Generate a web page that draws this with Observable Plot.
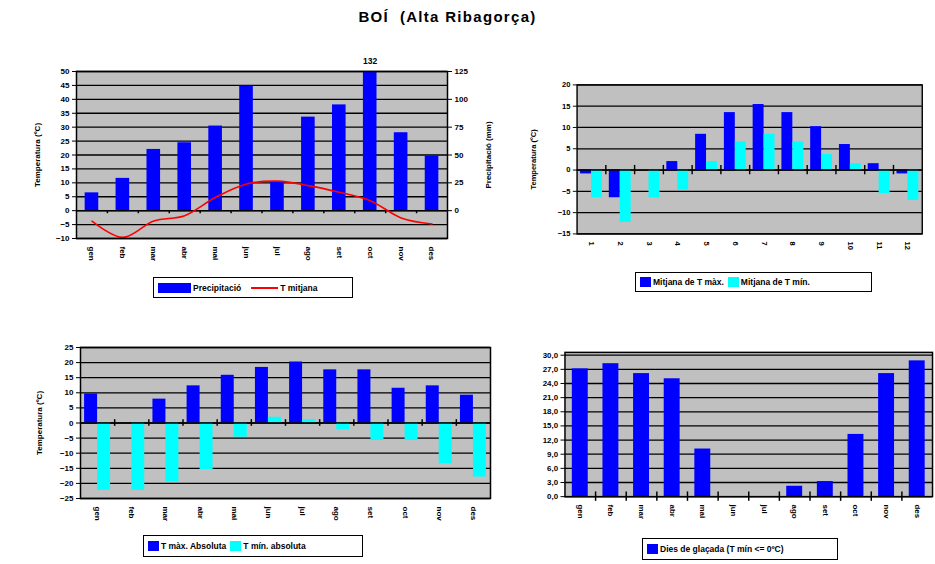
<!DOCTYPE html>
<html>
<head>
<meta charset="utf-8">
<script src="https://cdn.jsdelivr.net/npm/d3@7"></script>
<script src="https://cdn.jsdelivr.net/npm/@observablehq/plot@0.6"></script>
<style>
  html, body { margin: 0; padding: 0; background: #fff; }
  #root { position: relative; width: 935px; height: 564px; overflow: hidden; background: #fff;
          font-family: "Liberation Sans", Arial, sans-serif; }
  .panel { position: absolute; }
  .title { position: absolute; left: 0; width: 895px; top: 8px; text-align: center;
           font-weight: bold; font-size: 15px; letter-spacing: 1.3px; }
  .legend { position: absolute; border: 1.5px solid #000; background: #fff; box-sizing: border-box;
            display: flex; align-items: center; font-size: 8.5px; font-weight: bold; padding: 0 4px; white-space: nowrap; }
  .sw { display: inline-block; margin-right: 2px; }
</style>
</head>
<body>
<div id="root"></div>
<script>
// ---------- data ----------
const months = ["gen","feb","mar","abr","mai","jun","jul","ago","set","oct","nov","des"];
const monthNums = ["1","2","3","4","5","6","7","8","9","10","11","12"];
const precip = [16, 29, 55, 61, 76, 112, 26, 84, 95, 132, 70, 49];
const tMitjana = [-3.8, -9.6, -3.7, -1.8, 4.8, 9.6, 10.6, 9.0, 6.6, 3.6, -2.6, -4.8];
const tMaxMean = [-0.9, -6.5, 0, 2.0, 8.4, 13.5, 15.4, 13.5, 10.2, 6.0, 1.5, -0.9];
const tMinMean = [-6.5, -12.3, -6.5, -4.7, 2.0, 6.6, 8.4, 6.6, 3.7, 1.5, -5.5, -7.1];
const tMaxAbs = [9.6, 0, 7.9, 12.3, 15.8, 18.4, 20.2, 17.6, 17.6, 11.5, 12.3, 9.2];
const tMinAbs = [-22.3, -22.3, -19.5, -15.4, -4.7, 1.9, 1.1, -2.3, -5.8, -5.8, -13.5, -17.9];
const frostDays = [27.1, 28.2, 26.1, 25.0, 10.1, 0, 0, 2.2, 3.2, 13.2, 26.1, 28.8];

const rows = months.map((m, k) => ({
  i: k + 1, month: m, num: monthNums[k],
  p: precip[k], tm: tMitjana[k],
  tmax: tMaxMean[k], tmin: tMinMean[k],
  amax: tMaxAbs[k], amin: tMinAbs[k],
  frost: frostDays[k]
}));
const bounds = d3.range(1.5, 12, 1);

const GREY = "#c0c0c0", BLUE = "#0000ff", CYAN = "#00ffff", RED = "#ff0000";
const style = { fontFamily: "Liberation Sans, Arial, sans-serif", fontSize: "8px", fontWeight: "bold", background: "transparent", overflow: "visible" };

const root = document.getElementById("root");
function place(el, left, top) {
  const d = document.createElement("div");
  d.className = "panel"; d.style.left = left + "px"; d.style.top = top + "px";
  d.appendChild(el); root.appendChild(d);
}
function legend(left, top, w, h, items) {
  const d = document.createElement("div");
  d.className = "legend";
  Object.assign(d.style, { left: left + "px", top: top + "px", width: w + "px", height: h + "px" });
  items.forEach(it => {
    const s = document.createElement("span");
    s.className = "sw";
    if (it.line) Object.assign(s.style, { width: it.w + "px", height: "2px", background: it.color, marginLeft: "6px" });
    else Object.assign(s.style, { width: it.w + "px", height: "10px", background: it.color });
    const t = document.createElement("span");
    t.textContent = it.label;
    t.style.marginRight = "4px";
    d.appendChild(s); d.appendChild(t);
  });
  root.appendChild(d);
}

// title
const title = document.createElement("div");
title.className = "title";
title.textContent = "BOÍ  (Alta Ribagorça)";
title.style.whiteSpace = "pre";
root.appendChild(title);

// ---------- Panel 1: climogram ----------
const p1 = Plot.plot({
  width: 500, height: 222,
  marginLeft: 76, marginRight: 53, marginTop: 11, marginBottom: 44,
  style,
  x: { domain: [0.5, 12.5] },
  y: { domain: [-10, 50], clamp: true },
  marks: [
    Plot.frame({ fill: GREY }),
    Plot.ruleY(d3.range(-10, 51, 5), { stroke: "black", strokeWidth: 1.3 }),
    Plot.rect(rows, { x1: d => d.i - 0.22, x2: d => d.i + 0.22, y1: 0, y2: d => d.p / 2.5, fill: BLUE }),
    Plot.text(rows.filter(d => d.p > 125), { x: "i", y: d => d.p / 2.5, text: d => String(d.p), dy: -10, fontSize: 8.5 }),
    Plot.ruleY([0], { stroke: "black", strokeWidth: 1.5 }),
    Plot.ruleX(bounds, { y1: 0, y2: -1.1, stroke: "black", strokeWidth: 1.5 }),
    Plot.line(rows, { x: "i", y: "tm", stroke: RED, strokeWidth: 1.6, curve: "catmull-rom" }),
    Plot.frame({ stroke: "black", strokeWidth: 1.5 }),
    Plot.axisY({ anchor: "left", ticks: d3.range(-10, 51, 5), tickSize: 4, tickPadding: 3,
      label: "Temperatura (ºC)", labelAnchor: "center", labelArrow: "none", labelOffset: 42, fontSize: 8 }),
    Plot.axisY({ anchor: "right", ticks: d3.range(0, 51, 10), tickFormat: d => d * 2.5, tickSize: 4, tickPadding: 3,
      label: "Precipitació (mm)", labelAnchor: "center", labelArrow: "none", labelOffset: 43, fontSize: 8 }),
    Plot.axisX({ ticks: d3.range(1, 13), tickFormat: i => months[i - 1], tickRotate: 90, tickSize: 0, tickPadding: 8, label: null })
  ]
});
place(p1, 0, 60);
legend(153, 277, 200, 21, [
  { color: BLUE, w: 33, label: "Precipitació" },
  { color: RED, w: 27, line: true, label: "T mitjana" }
]);

// ---------- Panel 2: mean max/min ----------
const p2 = Plot.plot({
  width: 440, height: 200,
  marginLeft: 60, marginRight: 14, marginTop: 10, marginBottom: 32,
  style,
  x: { domain: [0.5, 12.5] },
  y: { domain: [-15, 20] },
  marks: [
    Plot.frame({ fill: GREY }),
    Plot.ruleY(d3.range(-15, 21, 5), { stroke: "black", strokeWidth: 1.3 }),
    Plot.rect(rows, { x1: d => d.i - 0.38, x2: d => d.i, y1: 0, y2: "tmax", fill: BLUE }),
    Plot.rect(rows, { x1: d => d.i, x2: d => d.i + 0.38, y1: 0, y2: "tmin", fill: CYAN }),
    Plot.ruleY([0], { stroke: "black", strokeWidth: 1.5 }),
    Plot.ruleX(bounds, { y1: -1.1, y2: 1.1, stroke: "black", strokeWidth: 1.5 }),
    Plot.frame({ stroke: "black", strokeWidth: 1.5 }),
    Plot.axisY({ anchor: "left", ticks: d3.range(-15, 21, 5), tickSize: 4, tickPadding: 3,
      label: "Temperatura (ºC)", labelAnchor: "center", labelArrow: "none", labelOffset: 49, fontSize: 8 }),
    Plot.axisX({ ticks: d3.range(1, 13), tickFormat: i => monthNums[i - 1], tickRotate: 90, tickSize: 0, tickPadding: 8, label: null })
  ]
});
place(p2, 520, 75);
legend(635, 272, 237, 20, [
  { color: BLUE, w: 11, label: "Mitjana de T màx." },
  { color: CYAN, w: 11, label: "Mitjana de T mín." }
]);

// ---------- Panel 3: absolute max/min ----------
const p3 = Plot.plot({
  width: 500, height: 200,
  marginLeft: 80, marginRight: 10, marginTop: 10, marginBottom: 39,
  style,
  x: { domain: [0.5, 12.5] },
  y: { domain: [-25, 25] },
  marks: [
    Plot.frame({ fill: GREY }),
    Plot.ruleY(d3.range(-25, 26, 5), { stroke: "black", strokeWidth: 1.3 }),
    Plot.rect(rows, { x1: d => d.i - 0.38, x2: d => d.i, y1: 0, y2: "amax", fill: BLUE }),
    Plot.rect(rows, { x1: d => d.i, x2: d => d.i + 0.38, y1: 0, y2: "amin", fill: CYAN }),
    Plot.ruleY([0], { stroke: "black", strokeWidth: 1.5 }),
    Plot.ruleX(bounds, { y1: -1.1, y2: 1.1, stroke: "black", strokeWidth: 1.5 }),
    Plot.frame({ stroke: "black", strokeWidth: 1.5 }),
    Plot.axisY({ anchor: "left", ticks: d3.range(-25, 26, 5), tickSize: 4, tickPadding: 3,
      label: "Temperatura (ºC)", labelAnchor: "center", labelArrow: "none", labelOffset: 44, fontSize: 8 }),
    Plot.axisX({ ticks: d3.range(1, 13), tickFormat: i => months[i - 1], tickRotate: 90, tickSize: 0, tickPadding: 8, label: null })
  ]
});
place(p3, 0, 337);
legend(143, 535, 220, 22, [
  { color: BLUE, w: 11, label: "T màx. Absoluta" },
  { color: CYAN, w: 11, label: "T mín. absoluta" }
]);

// ---------- Panel 4: frost days ----------
const p4 = Plot.plot({
  width: 420, height: 190,
  marginLeft: 45, marginRight: 3, marginTop: 10, marginBottom: 34,
  style,
  x: { domain: [0.5, 12.5] },
  y: { domain: [0, 30.6] },
  marks: [
    Plot.frame({ fill: GREY }),
    Plot.ruleY(d3.range(0, 31, 3), { stroke: "black", strokeWidth: 1.3 }),
    Plot.rect(rows, { x1: d => d.i - 0.26, x2: d => d.i + 0.26, y1: 0, y2: "frost", fill: BLUE }),
    Plot.ruleY([0], { stroke: "black", strokeWidth: 1.5 }),
    Plot.ruleX(bounds, { y1: -1, y2: 1, stroke: "black", strokeWidth: 1.5 }),
    Plot.frame({ stroke: "black", strokeWidth: 1.5 }),
    Plot.axisY({ anchor: "left", ticks: d3.range(0, 31, 3), tickFormat: d => d.toFixed(1).replace(".", ","), tickSize: 4, tickPadding: 3, label: null }),
    Plot.axisX({ ticks: d3.range(1, 13), tickFormat: i => months[i - 1], tickRotate: 90, tickSize: 0, tickPadding: 8, label: null })
  ]
});
place(p4, 520, 342);
legend(642, 538, 196, 22, [
  { color: BLUE, w: 11, label: "Dies de glaçada (T mín <= 0ºC)" }
]);
</script>
</body>
</html>
